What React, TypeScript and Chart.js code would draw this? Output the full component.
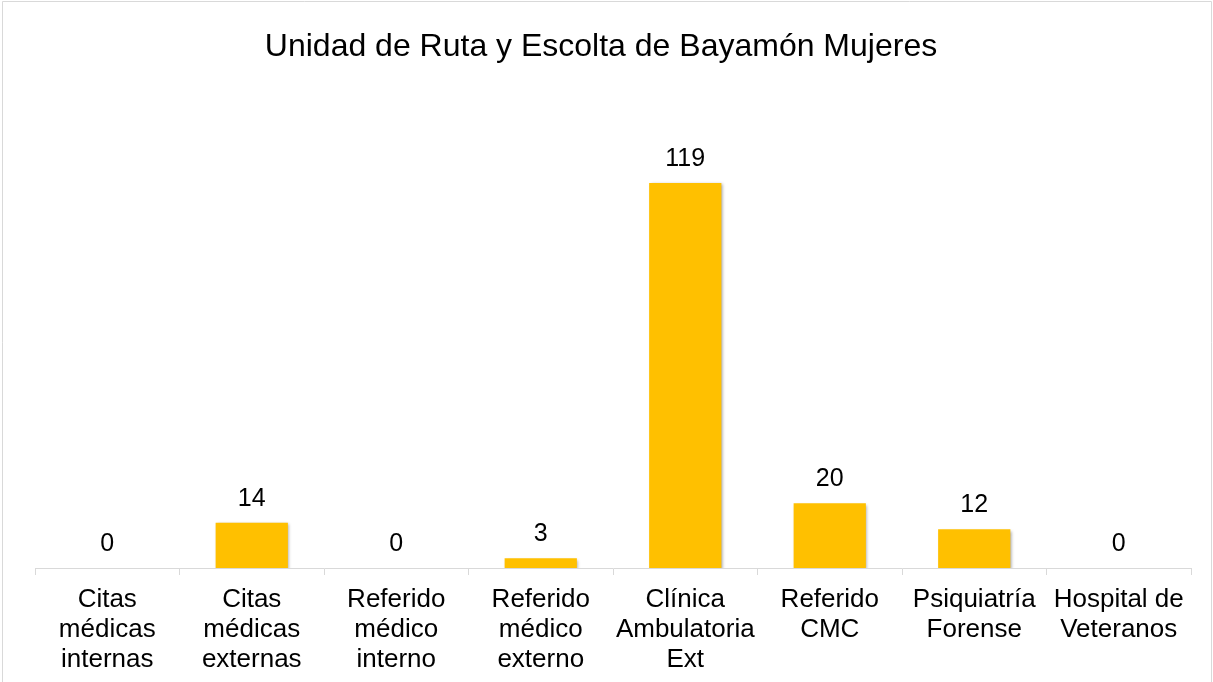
import React, { useEffect, useRef } from "react";
import { Chart, registerables } from "chart.js";

Chart.register(...registerables);

const TITLE = "Unidad de Ruta y Escolta de Bayamón Mujeres";
const CATEGORIES: string[][] = [
  ["Citas", "médicas", "internas"],
  ["Citas", "médicas", "externas"],
  ["Referido", "médico", "interno"],
  ["Referido", "médico", "externo"],
  ["Clínica", "Ambulatoria", "Ext"],
  ["Referido", "CMC"],
  ["Psiquiatría", "Forense"],
  ["Hospital de", "Veteranos"],
];
const VALUES: number[] = [0, 14, 0, 3, 119, 20, 12, 0];
const Y_MAX = 140;

const FONT = "'Liberation Sans', Arial, sans-serif";

export default function App() {
  const ref = useRef<HTMLCanvasElement | null>(null);

  useEffect(() => {
    document.body.style.margin = "0";
    const canvas = ref.current;
    if (!canvas) return;

    const framePlugin = {
      id: "frame",
      beforeDraw(chart: any) {
        const ctx = chart.ctx;
        ctx.save();
        ctx.fillStyle = "#ffffff";
        ctx.fillRect(0, 0, chart.width, chart.height);
        ctx.strokeStyle = "#d9d9d9";
        ctx.lineWidth = 1;
        ctx.beginPath();
        ctx.moveTo(2.5, chart.height + 5);
        ctx.lineTo(2.5, 1.5);
        ctx.lineTo(1211.5, 1.5);
        ctx.lineTo(1211.5, chart.height + 5);
        ctx.stroke();
        ctx.fillStyle = "#000000";
        ctx.font = `32px ${FONT}`;
        ctx.textAlign = "center";
        ctx.textBaseline = "alphabetic";
        ctx.fillText(TITLE, 601, 56);
        ctx.restore();
      },
      beforeDatasetsDraw(chart: any) {
        const ctx = chart.ctx;
        ctx.save();
        ctx.shadowColor = "rgba(0,0,0,0.35)";
        ctx.shadowBlur = 3;
        ctx.shadowOffsetX = 1.5;
        ctx.shadowOffsetY = 1.5;
      },
      afterDatasetsDraw(chart: any) {
        const ctx = chart.ctx;
        ctx.restore();
        ctx.save();
        ctx.fillStyle = "#000000";
        ctx.font = `25px ${FONT}`;
        ctx.textAlign = "center";
        ctx.textBaseline = "alphabetic";
        const meta = chart.getDatasetMeta(0);
        meta.data.forEach((el: any, i: number) => {
          ctx.fillText(String(VALUES[i]), el.x, el.y - 17);
        });
        ctx.restore();
      },
    };

    const chart = new Chart(canvas, {
      type: "bar",
      data: {
        labels: CATEGORIES,
        datasets: [
          {
            data: VALUES,
            backgroundColor: "#FFC000",
            borderWidth: 0,
            categoryPercentage: 0.5,
            barPercentage: 1,
          },
        ],
      },
      options: {
        animation: false,
        responsive: false,
        maintainAspectRatio: false,
        devicePixelRatio: 1,
        layout: { padding: { left: 35, right: 22, top: 115, bottom: 0 } },
        plugins: {
          legend: { display: false },
          title: { display: false },
          tooltip: { enabled: false },
        },
        scales: {
          x: {
            offset: true,
            grid: {
              offset: true,
              display: true,
              drawOnChartArea: false,
              drawTicks: true,
              tickLength: 7,
              color: "#d9d9d9",
              lineWidth: 1,
            },
            border: { display: true, color: "#d9d9d9", width: 1 },
            ticks: {
              color: "#000000",
              font: { family: FONT, size: 26, lineHeight: "30px" },
              padding: 10,
              maxRotation: 0,
              minRotation: 0,
              autoSkip: false,
            },
            afterFit(scale: any) {
              scale.height = 682 - 568;
            },
          },
          y: {
            display: false,
            min: 0,
            max: Y_MAX,
          },
        },
      },
      plugins: [framePlugin],
    });

    return () => chart.destroy();
  }, []);

  return (
    <div style={{ width: 1213, height: 682 }}>
      <canvas ref={ref} width={1213} height={682} style={{ display: "block", width: 1213, height: 682 }} />
    </div>
  );
}
